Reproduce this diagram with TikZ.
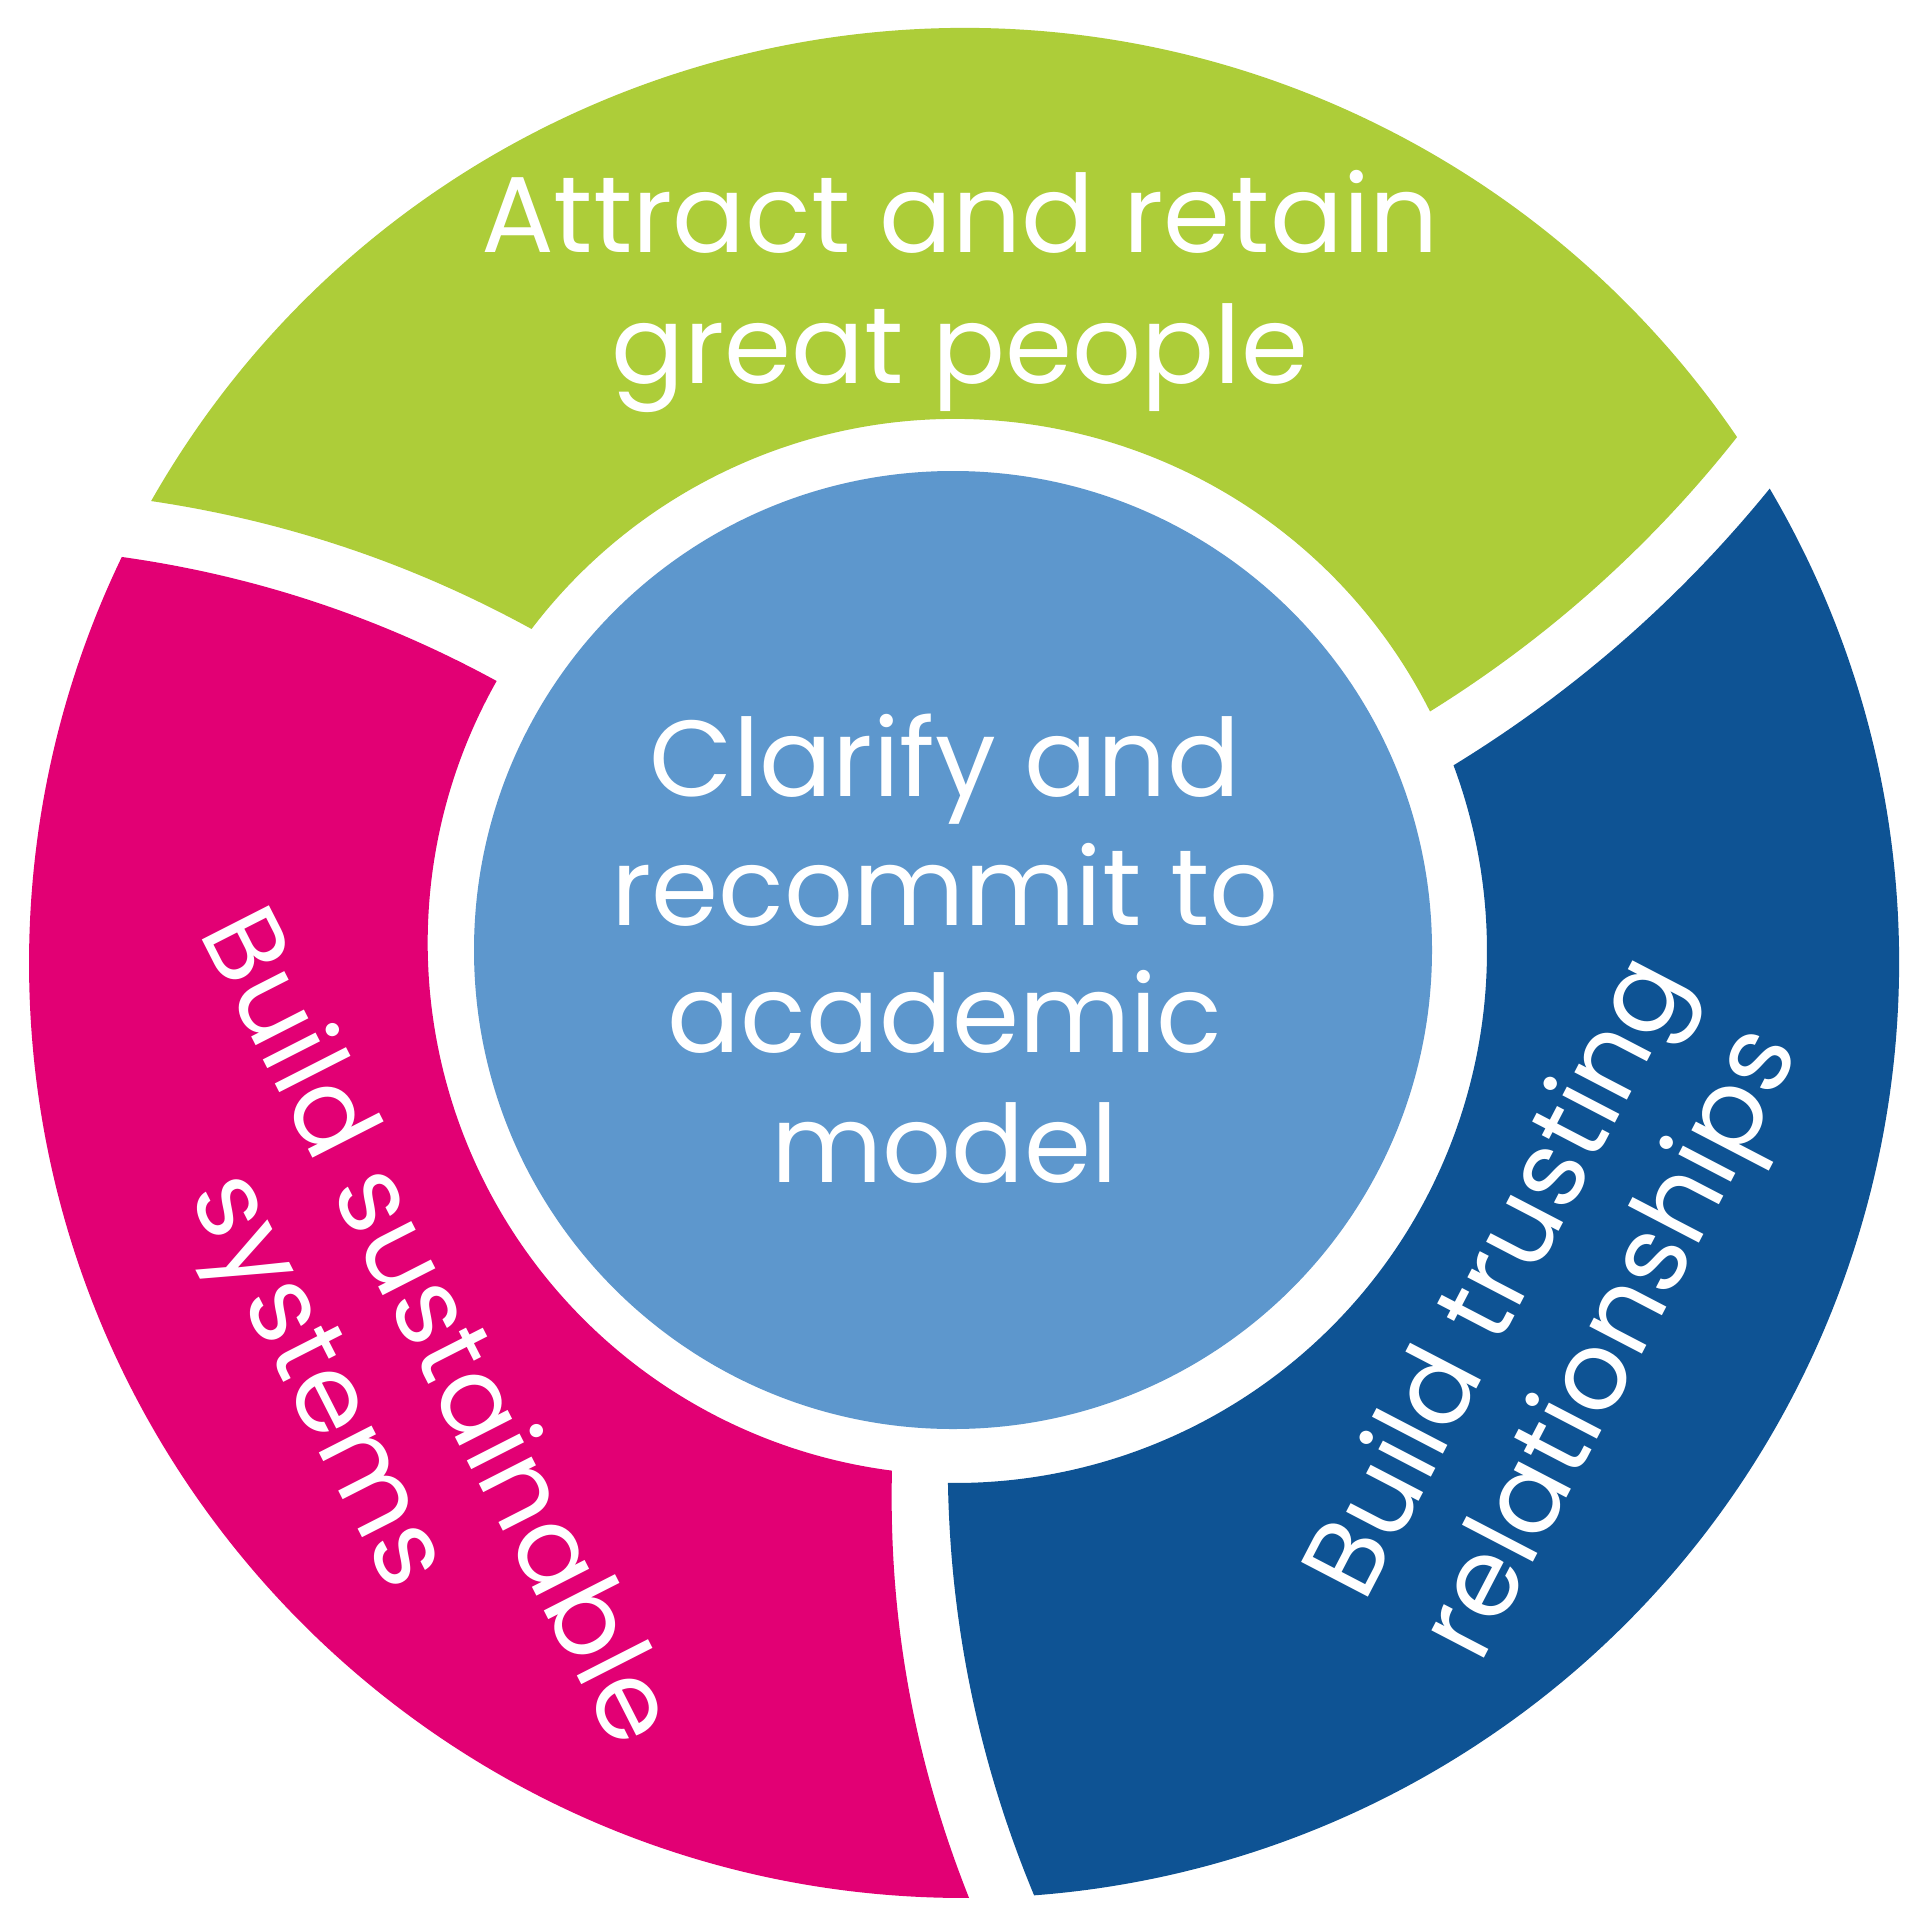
\documentclass[tikz,border=0pt]{standalone}
\usepackage{fontspec}
\setmainfont{Poppins}
\usetikzlibrary{calc}
\definecolor{greenc}{HTML}{ADCD39}
\definecolor{pinkc}{HTML}{E20074}
\definecolor{darkbluec}{HTML}{0E5394}
\definecolor{lightbluec}{HTML}{5D97CD}
\begin{document}
\begin{tikzpicture}[x=0.5pt,y=-0.5pt,
  lbl/.style={text=white,inner sep=0pt,anchor=base,font=\fontsize{54pt}{64pt}\selectfont}]
\useasboundingbox (0,0) rectangle (1926,1926);
\fill[white] (0,0) rectangle (1926,1926);
% centres
\coordinate (O) at (964,963);
\coordinate (I) at (955,951);
% outer corners
\coordinate (G1o) at ($(O)+(-150.39:935)$);
\coordinate (P1o) at ($(O)+(-154.26:935)$);
\coordinate (G2o) at ($(O)+(-34.23:935)$);
\coordinate (B2o) at ($(O)+(-30.49:935)$);
\coordinate (P3o) at ($(O)+(89.69:935)$);
\coordinate (B3o) at ($(O)+(85.70:935)$);
% inner corners
\coordinate (G1i) at ($(I)+(-142.75:532)$);
\coordinate (P1i) at ($(I)+(-149.5:532)$);
\coordinate (G2i) at ($(I)+(-26.76:532)$);
\coordinate (B2i) at ($(I)+(-20.43:532)$);
\coordinate (P3i) at ($(I)+(97.31:532)$);
\coordinate (B3i) at ($(I)+(90.76:532)$);
% segments
\fill[greenc] (G1o) arc[start angle=-150.39, end angle=-34.23, radius=935]
  .. controls (1650.7,546.4) and (1548.3,637.8) .. (G2i)
  arc[start angle=-26.76, end angle=-142.75, radius=532]
  .. controls (412.4,563.6) and (285.6,520.9) .. (G1o) -- cycle;
\fill[darkbluec] (B2o) arc[start angle=-30.49, end angle=85.70, radius=935]
  .. controls (979.2,1763.4) and (950.5,1625.9) .. (B3i)
  arc[start angle=90.76, end angle=-20.43, radius=532]
  .. controls (1574.7,691.1) and (1680.1,598.8) .. (B2o) -- cycle;
\fill[pinkc] (P3o) arc[start angle=89.69, end angle=205.74, radius=935]
  .. controls (254.3,575.5) and (379.2,616.9) .. (P1i)
  arc[start angle=209.5, end angle=97.31, radius=532]
  .. controls (888.4,1623.6) and (915.6,1763.3) .. (P3o) -- cycle;
% centre circle
\fill[lightbluec] (953,950) circle[radius=479];
% texts
\node[lbl] (t1a) at (960,252.6) {Attract and retain};
\node[lbl] (t1b) at (960,383) {great people};
\node[lbl] (c1) at (945,796) {Clarify and};
\node[lbl] (c2) at (945,925) {recommit to};
\node[lbl] (c3) at (945,1052) {academic};
\node[lbl] (c4) at (945,1182) {model};
\node[lbl,rotate=-63] (p1) at (407,1342) {Build sustainable};
\node[lbl,rotate=-63] (p2) at (290,1395) {systems};
\node[lbl,rotate=62.5] (b1) at (1527,1293) {Build trusting};
\node[lbl,rotate=62.5] (b2) at (1640,1358) {relationships};
\end{tikzpicture}
\end{document}
